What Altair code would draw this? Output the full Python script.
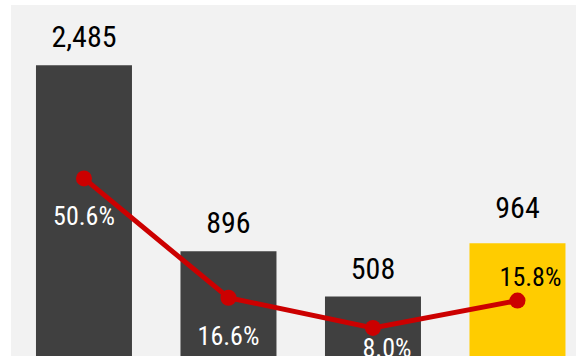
import altair as alt
import pandas as pd

# data
positions = [0, 1, 2, 3]
values = [2485, 896, 508, 964]
shares = [0.506, 0.166, 0.080, 0.158]
highlight = [False, False, False, True]

df = pd.DataFrame({"pos": positions, "value": values, "share": shares, "highlight": highlight})

FONT = "Roboto Condensed, Arial Narrow, sans-serif"

x = alt.X("pos:Q", scale=alt.Scale(domain=[-0.505, 3.405], nice=False, zero=False, padding=0), axis=None)
yb = alt.Y("value:Q", scale=alt.Scale(domain=[0, 3000], nice=False, padding=0), axis=None)
yl = alt.Y("share:Q", scale=alt.Scale(domain=[0, 1], nice=False, padding=0), axis=None)

base = alt.Chart(df)

bars = base.mark_bar(size=96).encode(
    x=x, y=yb,
    color=alt.condition("datum.highlight", alt.value("#FFCC00"), alt.value("#404040")),
)

val_lab = base.mark_text(font=FONT, fontSize=30, baseline="alphabetic", dy=-18, color="#000000").encode(
    x=x, y=yb, text=alt.Text("value:Q", format=",")
).transform_filter("!datum.highlight")

val_lab_h = base.mark_text(font=FONT, fontSize=30, baseline="alphabetic", dy=-25, color="#000000").encode(
    x=x, y=yb, text=alt.Text("value:Q", format=",")
).transform_filter("datum.highlight")

bar_layer = alt.layer(bars, val_lab, val_lab_h)

line = base.mark_line(color="#CC0000", strokeWidth=5).encode(x=x, y=yl)
pts = base.mark_point(filled=True, shape="circle", size=256, color="#CC0000", opacity=1).encode(x=x, y=yl)

pct_a = base.mark_text(font=FONT, fontSize=26, baseline="alphabetic", dy=47, color="#ffffff").encode(
    x=x, y=yl, text=alt.Text("share:Q", format=".1%")
).transform_filter("datum.pos <= 1")

pct_b = base.mark_text(font=FONT, fontSize=26, baseline="alphabetic", dx=14, dy=29, color="#ffffff").encode(
    x=x, y=yl, text=alt.Text("share:Q", format=".1%")
).transform_filter("datum.pos == 2")

pct_c = base.mark_text(font=FONT, fontSize=26, baseline="alphabetic", dx=13, dy=-15, color="#000000").encode(
    x=x, y=yl, text=alt.Text("share:Q", format=".1%")
).transform_filter("datum.pos == 3")

line_layer = alt.layer(line, pts, pct_a, pct_b, pct_c)

chart = alt.layer(bar_layer, line_layer).resolve_scale(y="independent").properties(
    width=565, height=351,
    padding={"left": 11, "top": 5, "right": 0, "bottom": 0},
    background="#ffffff",
).configure_view(fill="#f2f2f2", stroke=None)

chart.save("out.html", embed_options={"renderer": "svg", "actions": False})
